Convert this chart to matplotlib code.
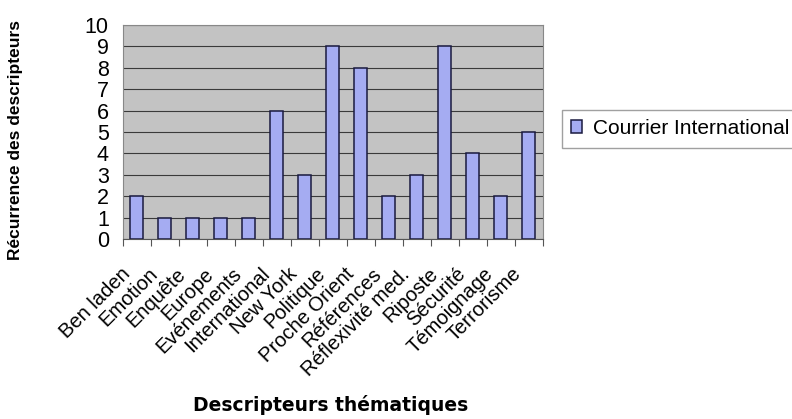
import numpy as np
from matplotlib import pyplot as plt
from matplotlib import transforms

plt.rcParams['font.family'] = ['Liberation Sans', 'DejaVu Sans']

# data
categories = ['Ben laden', 'Emotion', 'Enquête', 'Europe', 'Evénements',
              'International', 'New York', 'Politique', 'Proche Orient',
              'Références', 'Réflexivité med.', 'Riposte', 'Sécurité',
              'Témoignage', 'Terrorisme']
courrier_international = [2, 1, 1, 1, 1, 6, 3, 9, 8, 2, 3, 9, 4, 2, 5]
series_name = 'Courrier International'

fig = plt.figure(figsize=(7.92, 4.19), dpi=100)
ax = fig.add_axes([0.155, 0.429, 0.530, 0.512])

index = np.arange(len(categories))
ax.set_facecolor('#c3c3c3')
ax.set_axisbelow(True)
ax.yaxis.grid(True, color='#3a3a3a', linewidth=0.8)

bars = ax.bar(index, courrier_international, 0.47,
              color='#a5acf2', edgecolor='#1a1a40', linewidth=1.1,
              label=series_name)

ax.set_xlim(-0.5, len(categories) - 0.5)
ax.set_ylim(0, 10)
ax.set_yticks(range(0, 11))
ax.tick_params(axis='y', labelsize=15.5, length=0, pad=10)

# ticks on category boundaries, labels at centres
ax.set_xticks(np.arange(len(categories) + 1) - 0.5)
ax.set_xticklabels([])
ax.set_xticks(index, minor=True)
ax.set_xticklabels(categories, minor=True, rotation=45, ha='right',
                   rotation_mode='anchor', fontsize=14.5)
ax.tick_params(axis='x', which='major', direction='out', length=5,
               color='#555555')
ax.tick_params(axis='x', which='minor', length=0, pad=6)

# shift the slanted labels down-left like the original
shift = transforms.ScaledTranslation(-12 / 72, -12 / 72, fig.dpi_scale_trans)
for lab in ax.get_xticklabels(minor=True):
    lab.set_transform(lab.get_transform() + shift)

for s in ['top', 'right', 'left']:
    ax.spines[s].set_color('#888888')
ax.spines['bottom'].set_color('#555555')

fig.text(0.020, 0.665, 'Récurrence des descripteurs', rotation=90,
         ha='center', va='center', fontsize=12.5, fontweight='bold')
fig.text(0.417, 0.033, 'Descripteurs thématiques', ha='center',
         va='center', fontsize=13.5, fontweight='bold',
         family=['DejaVu Sans'])

leg = fig.legend(handles=[bars], labels=[series_name],
                 loc='center left', bbox_to_anchor=(0.709, 0.693),
                 fontsize=15, frameon=True, fancybox=False,
                 handlelength=0.55, handleheight=0.55, handletextpad=0.5,
                 borderpad=0.45, borderaxespad=0)
leg.get_frame().set_edgecolor('#888888')
leg.get_frame().set_linewidth(1.0)

fig.savefig('out.png', dpi=100)
